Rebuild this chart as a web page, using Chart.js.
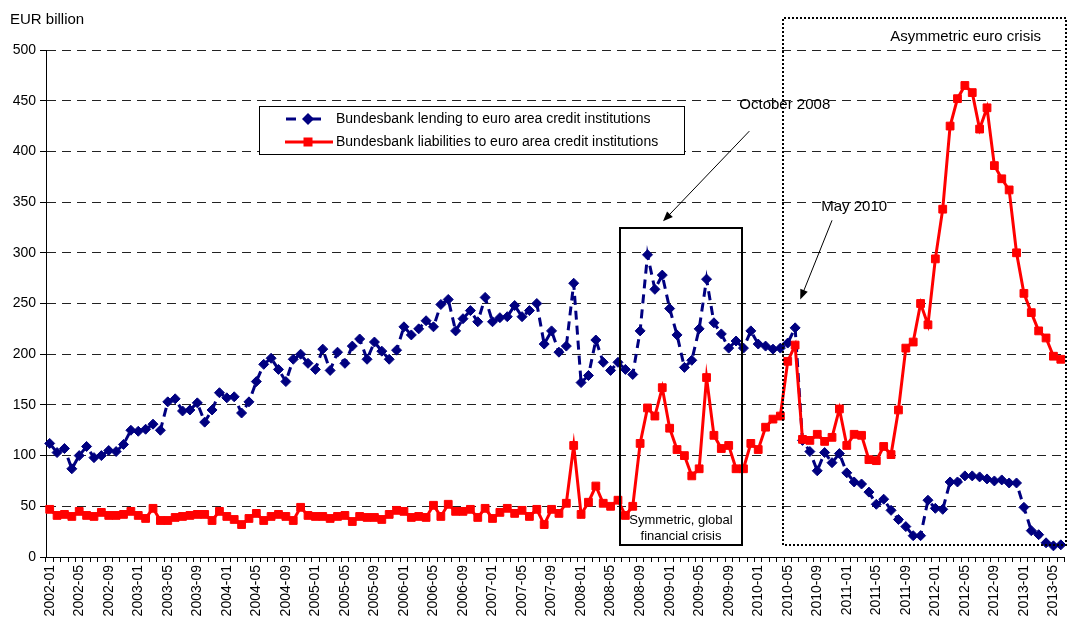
<!DOCTYPE html>
<html><head><meta charset="utf-8">
<script src="https://cdn.jsdelivr.net/npm/chart.js@4.4.0/dist/chart.umd.min.js"></script>
<style>html,body{margin:0;padding:0;background:#fff;}#wrap{width:1071px;height:622px;position:relative;}</style>
</head><body><div id="wrap"><canvas id="c"></canvas></div>
<script>
// Categories: monthly, 2002-01 .. 2013-06
const months = [];
for (let y = 2002; y <= 2013; y++) {
  for (let m = 1; m <= 12; m++) {
    if (y === 2013 && m > 6) break;
    months.push(y + '-' + String(m).padStart(2, '0'));
  }
}
// Bundesbank lending to euro area credit institutions (EUR bn)
const lending2002 = [112, 103, 107, 87, 100, 109, 98, 100, 105, 104, 111, 125];
const lending2003 = [124, 126, 131, 125, 153, 156, 144, 145, 152, 133, 145, 162];
const lending2004 = [157, 158, 142, 153, 173, 190, 196, 185, 173, 195, 200, 191];
const lending2005 = [185, 205, 184, 202, 191, 208, 215, 195, 212, 203, 195, 204];
const lending2006 = [227, 219, 225, 233, 227, 249, 254, 223, 235, 243, 232, 256];
const lending2007 = [232, 236, 237, 248, 237, 243, 250, 210, 223, 202, 208, 270];
const lending2008 = [172, 179, 214, 192, 184, 192, 185, 180, 223, 298, 264, 278];
const lending2009 = [245, 219, 187, 194, 225, 274, 231, 220, 206, 213, 206, 223];
const lending2010 = [210, 208, 205, 206, 211, 226, 115, 104, 85, 103, 93, 102];
const lending2011 = [83, 74, 72, 64, 52, 57, 46, 37, 30, 21, 21, 56];
const lending2012 = [48, 47, 74, 74, 80, 80, 79, 77, 75, 76, 73, 73];
const lending2013 = [49, 26, 22, 14, 11, 12];
// Bundesbank liabilities to euro area credit institutions (EUR bn)
const liab2002 = [47, 41, 42, 40, 45, 41, 40, 44, 41, 41, 42, 45];
const liab2003 = [41, 38, 48, 36, 36, 39, 40, 41, 42, 42, 36, 45];
const liab2004 = [40, 37, 32, 38, 43, 36, 40, 42, 40, 36, 49, 41];
const liab2005 = [40, 40, 38, 40, 41, 35, 40, 39, 39, 37, 42, 46];
const liab2006 = [45, 39, 40, 39, 51, 40, 52, 45, 45, 47, 39, 48];
const liab2007 = [38, 44, 48, 43, 46, 40, 47, 32, 47, 43, 53, 110];
const liab2008 = [42, 54, 70, 53, 50, 56, 41, 50, 112, 147, 139, 167];
const liab2009 = [127, 106, 100, 80, 87, 177, 120, 107, 110, 87, 87, 112];
const liab2010 = [106, 128, 136, 139, 193, 209, 116, 115, 121, 114, 118, 146];
const liab2011 = [110, 121, 120, 96, 95, 109, 101, 145, 206, 212, 250, 229];
const liab2012 = [294, 343, 425, 452, 465, 458, 422, 443, 386, 373, 362, 300];
const liab2013 = [260, 241, 223, 216, 198, 195];

const lending = [].concat(lending2002, lending2003, lending2004, lending2005, lending2006, lending2007,
  lending2008, lending2009, lending2010, lending2011, lending2012, lending2013);
const liabilities = [].concat(liab2002, liab2003, liab2004, liab2005, liab2006, liab2007,
  liab2008, liab2009, liab2010, liab2011, liab2012, liab2013);

const seriesNames = ['Bundesbank lending to euro area credit institutions',
                     'Bundesbank liabilities to euro area credit institutions'];
const yAxisTitle = 'EUR billion';
const yMin = 0, yMax = 500, yStep = 50;

const NAVY = '#000080', RED = '#ff0000';
const FONT = '"Liberation Sans", Arial, sans-serif';

function arrow(ctx, x1, y1, x2, y2) {
  const a = Math.atan2(y2 - y1, x2 - x1);
  const L = 10, W = 4;
  ctx.beginPath();
  ctx.moveTo(x1, y1);
  ctx.lineTo(x2 - L * Math.cos(a) * 0.8, y2 - L * Math.sin(a) * 0.8);
  ctx.stroke();
  ctx.beginPath();
  ctx.moveTo(x2, y2);
  ctx.lineTo(x2 - L * Math.cos(a) + W * Math.sin(a), y2 - L * Math.sin(a) - W * Math.cos(a));
  ctx.lineTo(x2 - L * Math.cos(a) - W * Math.sin(a), y2 - L * Math.sin(a) + W * Math.cos(a));
  ctx.closePath();
  ctx.fill();
}

const annotations = {
  id: 'annotations',
  afterDatasetsDraw(chart) {
    const {ctx, chartArea} = chart;
    const xs = chart.scales.x, ys = chart.scales.y;
    const X = i => xs.getPixelForValue(i);
    const Y = v => ys.getPixelForValue(v);
    ctx.save();
    // Solid box: symmetric global financial crisis
    ctx.strokeStyle = '#000'; ctx.lineWidth = 2; ctx.setLineDash([]);
    const bx1 = Math.round(X(77.25)), bx2 = Math.round(X(93.85));
    const by1 = Math.round(Y(324.6)), by2 = Math.round(Y(11.9));
    ctx.strokeRect(bx1, by1, bx2 - bx1, by2 - by1);
    ctx.fillStyle = '#000';
    ctx.font = '13px ' + FONT; ctx.textAlign = 'center'; ctx.textBaseline = 'middle';
    ctx.fillText('Symmetric, global', (bx1 + bx2) / 2, Y(36));
    ctx.fillText('financial crisis', (bx1 + bx2) / 2, Y(20.5));
    // Dotted box: asymmetric euro crisis
    ctx.lineWidth = 2; ctx.setLineDash([2, 2]);
    const dx1 = Math.round(X(99.4)), dx2 = Math.round(chartArea.right) + 1;
    const dy1 = Math.round(Y(532)), dy2 = Math.round(Y(11.9));
    ctx.beginPath();
    ctx.moveTo(dx2, dy1); ctx.lineTo(dx1, dy1); ctx.lineTo(dx1, dy2); ctx.lineTo(dx2, dy2); ctx.lineTo(dx2, dy1);
    ctx.stroke();
    ctx.setLineDash([]);
    ctx.font = '15px ' + FONT;
    ctx.fillText('Asymmetric euro crisis', X(124.1), Y(512.5));
    // October 2008 label + arrow
    ctx.fillText('October 2008', X(99.6), Y(446));
    ctx.lineWidth = 1;
    arrow(ctx, X(94.8), Y(420), X(83.1), Y(331));
    // May 2010 label + arrow
    ctx.fillText('May 2010', X(109), Y(345.5));
    arrow(ctx, X(106), Y(332), X(101.7), Y(254));
    // Axis title
    ctx.textAlign = 'left';
    ctx.font = '15px ' + FONT;
    ctx.fillText(yAxisTitle, 10, 20);
    // Legend
    const lx1 = 259, lx2 = 684, ly1 = 106, ly2 = 154;
    ctx.fillStyle = '#fff'; ctx.fillRect(lx1, ly1, lx2 - lx1, ly2 - ly1);
    ctx.strokeStyle = '#000'; ctx.lineWidth = 1;
    ctx.strokeRect(lx1 + 0.5, ly1 + 0.5, lx2 - lx1, ly2 - ly1);
    const r1 = 119, r2 = 142;
    ctx.strokeStyle = NAVY; ctx.fillStyle = NAVY; ctx.lineWidth = 3;
    ctx.beginPath(); ctx.moveTo(286, r1); ctx.lineTo(296, r1); ctx.moveTo(305, r1); ctx.lineTo(321, r1); ctx.stroke();
    ctx.beginPath(); ctx.moveTo(308, r1 - 6); ctx.lineTo(314, r1); ctx.lineTo(308, r1 + 6); ctx.lineTo(302, r1); ctx.closePath(); ctx.fill();
    ctx.strokeStyle = RED; ctx.fillStyle = RED;
    ctx.beginPath(); ctx.moveTo(285, r2); ctx.lineTo(333, r2); ctx.stroke();
    ctx.fillRect(303.5, r2 - 4.5, 9, 9);
    ctx.fillStyle = '#000'; ctx.font = '14px ' + FONT; ctx.textAlign = 'left';
    ctx.fillText(seriesNames[0], 336, r1);
    ctx.fillText(seriesNames[1], 336, r2);
    ctx.restore();
  }
};

new Chart(document.getElementById('c'), {
  type: 'line',
  data: {
    labels: months,
    datasets: [
      { label: seriesNames[0], data: lending, borderColor: NAVY, backgroundColor: NAVY,
        borderWidth: 3, borderDash: [9, 6], pointStyle: 'rectRot', pointRadius: 5,
        pointBorderWidth: 1, pointBorderColor: NAVY, pointBackgroundColor: NAVY, tension: 0, order: 2, fill: false },
      { label: seriesNames[1], data: liabilities, borderColor: RED, backgroundColor: RED,
        borderWidth: 3, pointStyle: 'rect', pointRadius: 5.5,
        pointBorderWidth: 1, pointBorderColor: RED, pointBackgroundColor: RED, tension: 0, order: 1, fill: false }
    ]
  },
  options: {
    responsive: true, maintainAspectRatio: false, animation: false,
    devicePixelRatio: 1,
    layout: { padding: { top: 50, right: 5, left: 0, bottom: 0 } },
    plugins: { legend: { display: false }, tooltip: { enabled: false }, title: { display: false } },
    scales: {
      x: {
        offset: true,
        grid: { display: true, offset: true, drawOnChartArea: false, drawTicks: true, tickLength: 5, color: '#000', tickColor: '#000' },
        border: { display: true, color: '#000', width: 1 },
        ticks: {
          autoSkip: false, maxRotation: 90, minRotation: 90, padding: 3,
          color: '#000', font: { family: FONT, size: 14 },
          callback: function (v, i) { return i % 4 === 0 ? months[i] : ''; }
        },
        afterFit: s => { s.height = 65; s.paddingLeft = 0; s.paddingRight = 0; }
      },
      y: {
        min: yMin, max: yMax,
        grid: { color: '#222', lineWidth: 1, drawTicks: true, tickLength: 6, tickColor: '#000', tickBorderDash: [] },
        border: { display: true, color: '#000', width: 1, dash: [9, 6] },
        ticks: { stepSize: yStep, color: '#000', font: { family: FONT, size: 14 }, padding: 4 },
        afterFit: s => { s.width = 46; s.paddingTop = 0; s.paddingBottom = 0; }
      }
    }
  },
  plugins: [annotations]
});
</script>
</body></html>
